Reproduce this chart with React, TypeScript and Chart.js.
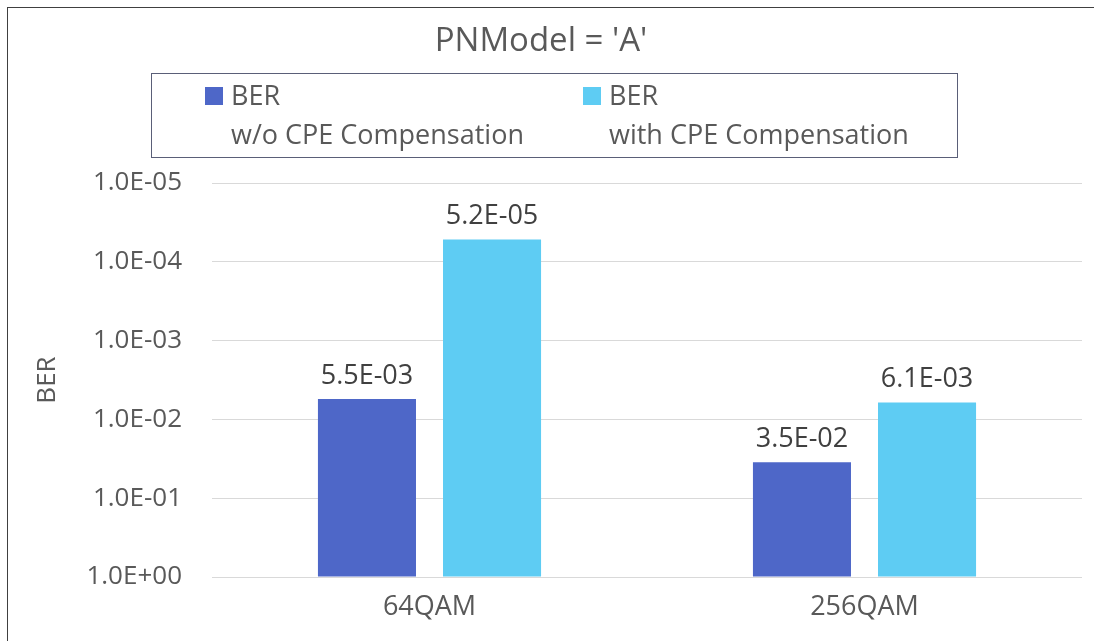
import React, { useEffect, useRef } from 'react';
import { Chart, registerables } from 'chart.js';

Chart.register(...registerables);

const categories = ['64QAM', '256QAM'];
const berWithoutCPE = [5.5e-3, 3.5e-2];
const berWithCPE = [5.2e-5, 6.1e-3];
const seriesNames = [
  ['BER', 'w/o CPE Compensation'],
  ['BER', 'with CPE Compensation'],
];
const seriesColors = ['#4E67C8', '#5ECCF3'];
const yTickValues = [1e-5, 1e-4, 1e-3, 1e-2, 1e-1, 1];
const yTickLabels = ['1.0E-05', '1.0E-04', '1.0E-03', '1.0E-02', '1.0E-01', '1.0E+00'];
const chartTitle = "PNModel = 'A'";
const yAxisTitle = 'BER';

const FONT = "'Open Sans', 'Noto Sans', sans-serif";
const TEXT_GRAY = '#595959';

function fmtSci(v: number): string {
  const e = Math.floor(Math.log10(v) + 1e-9);
  const m = v / Math.pow(10, e);
  const sign = e < 0 ? '-' : '+';
  return `${m.toFixed(1)}E${sign}${String(Math.abs(e)).padStart(2, '0')}`;
}

export default function App() {
  const ref = useRef<HTMLCanvasElement | null>(null);

  useEffect(() => {
    document.body.style.margin = '0';
    const canvas = ref.current;
    if (!canvas) return;

    const frame = {
      id: 'frame',
      beforeDraw(chart: any) {
        const ctx = chart.ctx;
        ctx.save();
        ctx.fillStyle = '#ffffff';
        ctx.fillRect(0, 0, chart.width, chart.height);
        ctx.strokeStyle = '#404040';
        ctx.lineWidth = 1;
        ctx.strokeRect(7.5, 7.5, chart.width + 20, chart.height + 20);
        ctx.restore();
      },
    };

    const legendBox = {
      id: 'legendBox',
      afterDraw(chart: any) {
        const ctx = chart.ctx;
        const boxLeft = 151;
        const boxTop = 73;
        const boxW = 806;
        const boxH = 84;
        ctx.save();
        ctx.strokeStyle = '#5A5F78';
        ctx.lineWidth = 1;
        ctx.strokeRect(boxLeft + 0.5, boxTop + 0.5, boxW, boxH);
        ctx.font = `27px ${FONT}`;
        ctx.textAlign = 'left';
        ctx.textBaseline = 'alphabetic';
        chart.data.datasets.forEach((ds: any, i: number) => {
          const x0 = boxLeft + 54 + i * 378;
          ctx.fillStyle = ds.backgroundColor;
          ctx.fillRect(x0, 87, 18, 18);
          ctx.fillStyle = TEXT_GRAY;
          const lines = seriesNames[i];
          lines.forEach((ln, j) => {
            ctx.fillText(ln, x0 + 26, 105 + j * 39);
          });
        });
        ctx.restore();
      },
    };

    const valueLabels = {
      id: 'valueLabels',
      afterDatasetsDraw(chart: any) {
        const ctx = chart.ctx;
        const yScale = chart.scales.y;
        ctx.save();
        ctx.font = `27px ${FONT}`;
        ctx.fillStyle = '#404040';
        ctx.textAlign = 'center';
        ctx.textBaseline = 'alphabetic';
        chart.data.datasets.forEach((ds: any, i: number) => {
          const meta = chart.getDatasetMeta(i);
          meta.data.forEach((el: any, j: number) => {
            const v = ds.data[j];
            const py = yScale.getPixelForValue(v);
            ctx.fillText(fmtSci(v), el.x, py - 15);
          });
        });
        ctx.restore();
      },
    };

    const chart = new Chart(canvas, {
      type: 'bar',
      data: {
        labels: categories,
        datasets: [
          {
            label: seriesNames[0].join(' '),
            data: berWithoutCPE,
            backgroundColor: seriesColors[0],
            base: 1,
            categoryPercentage: 0.575,
            barPercentage: 0.784,
          } as any,
          {
            label: seriesNames[1].join(' '),
            data: berWithCPE,
            backgroundColor: seriesColors[1],
            base: 1,
            categoryPercentage: 0.575,
            barPercentage: 0.784,
          } as any,
        ],
      },
      options: {
        responsive: false,
        animation: false,
        layout: { padding: { top: 0, left: 0, right: 12, bottom: 0 } },
        plugins: {
          legend: { display: false },
          tooltip: { enabled: false },
          title: {
            display: true,
            text: chartTitle,
            color: TEXT_GRAY,
            font: { family: FONT, size: 33, weight: 'normal' },
            padding: { top: 22, bottom: 121.4 },
          },
        },
        scales: {
          x: {
            grid: { display: false, drawTicks: false },
            border: { display: false },
            ticks: {
              color: TEXT_GRAY,
              font: { family: FONT, size: 27 },
              padding: 14,
            },
            afterFit(scale: any) {
              scale.height = 64;
            },
          },
          y: {
            type: 'logarithmic',
            min: 1e-5,
            max: 1,
            reverse: true,
            grid: { color: '#D9D9D9', lineWidth: 1, drawTicks: false },
            border: { display: false },
            afterBuildTicks(scale: any) {
              scale.ticks = yTickValues.map((v) => ({ value: v }));
            },
            ticks: {
              color: TEXT_GRAY,
              font: { family: FONT, size: 26 },
              padding: 30,
              callback: (_v: any, idx: number) => yTickLabels[idx],
            },
            title: {
              display: true,
              text: yAxisTitle,
              color: TEXT_GRAY,
              font: { family: FONT, size: 26 },
              padding: { top: 32, bottom: 0 },
            },
            afterFit(scale: any) {
              scale.width = 212;
            },
          },
        },
      },
      plugins: [frame, legendBox, valueLabels],
    } as any);

    return () => {
      chart.destroy();
    };
  }, []);

  return (
    <canvas
      ref={ref}
      width={1094}
      height={641}
      style={{ position: 'absolute', left: 0, top: 0, display: 'block' }}
    />
  );
}
